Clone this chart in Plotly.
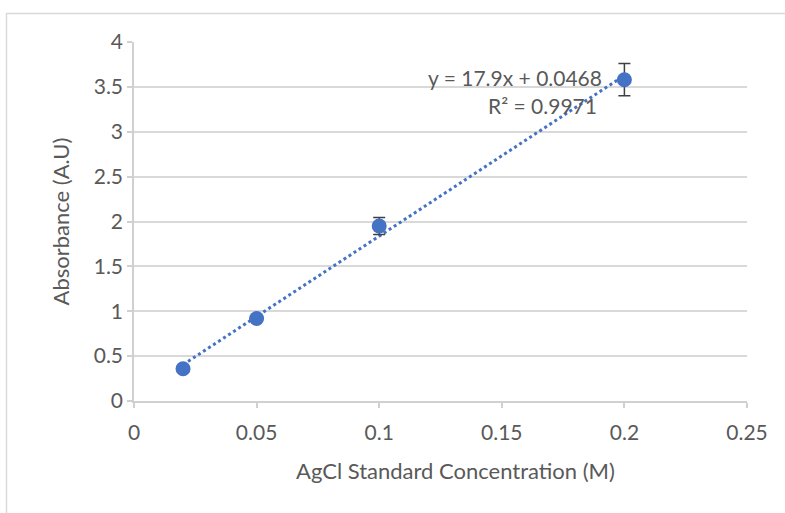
import plotly.graph_objects as go

conc = [0.02, 0.05, 0.1, 0.2]
absorb = [0.36, 0.92, 1.95, 3.58]
err = [0.0, 0.0, 0.095, 0.18]
slope = 17.9
intercept = 0.0468
r2 = 0.9971
x_ticks = [0, 0.05, 0.1, 0.15, 0.2, 0.25]
x_ticklabels = ["0", "0.05", "0.1", "0.15", "0.2", "0.25"]
y_ticks = [0, 0.5, 1, 1.5, 2, 2.5, 3, 3.5, 4]
y_ticklabels = ["0", "0.5", "1", "1.5", "2", "2.5", "3", "3.5", "4"]
x_title = "AgCl Standard Concentration (M)"
y_title = "Absorbance (A.U)"

blue = "#4472C4"
font = "Lato, Open Sans, sans-serif"
txt = "#595959"

trend_x = [conc[0], conc[-1]]
trend_y = [slope * v + intercept for v in trend_x]

fig = go.Figure()
fig.add_trace(go.Scatter(x=trend_x, y=trend_y, mode="lines",
                         line=dict(color=blue, width=3, dash="dot"),
                         showlegend=False, hoverinfo="skip"))
fig.add_trace(go.Scatter(x=conc, y=absorb, mode="markers",
                         marker=dict(color=blue, size=15),
                         error_y=dict(type="data", array=err, visible=True,
                                      color="#404040", thickness=1.5, width=6),
                         showlegend=False))

fig.add_annotation(xref="paper", yref="paper", x=(604 - 134) / 613, y=(401 - 77) / 359,
                   xanchor="right", yanchor="middle", showarrow=False,
                   text=f"y = {slope}x + {intercept}", font=dict(family=font, size=21, color=txt))
fig.add_annotation(xref="paper", yref="paper", x=(599 - 134) / 613, y=(401 - 105) / 359,
                   xanchor="right", yanchor="middle", showarrow=False,
                   text=f"R² = {r2}", font=dict(family=font, size=21, color=txt))
fig.add_annotation(xref="paper", yref="paper", x=(455 - 134) / 613, y=(401 - 470) / 359,
                   xanchor="center", yanchor="middle", showarrow=False,
                   text=x_title, font=dict(family=font, size=22, color=txt))

fig.add_shape(type="rect", xref="paper", yref="paper",
              x0=(6.5 - 134) / 613, x1=1.3, y0=-0.6, y1=(401 - 13.5) / 359,
              line=dict(color="#d9d9d9", width=1.5), fillcolor="rgba(0,0,0,0)", layer="below")

fig.update_xaxes(range=[0, 0.25], tickvals=x_ticks, ticktext=x_ticklabels,
                 showgrid=False, zeroline=False, showline=True, linecolor="#d0d0d0", linewidth=1.5,
                 ticks="outside", ticklen=5, tickcolor="#d0d0d0", tickwidth=1.5,
                 ticklabelstandoff=7,
                 tickfont=dict(family=font, size=21, color=txt))
fig.update_yaxes(range=[0, 4], tickvals=y_ticks, ticktext=y_ticklabels,
                 showgrid=True, gridcolor="#d9d9d9", gridwidth=1.5, zeroline=False,
                 showline=True, linecolor="#d0d0d0", linewidth=1.5,
                 ticks="outside", ticklen=5, tickcolor="#d0d0d0", tickwidth=1.5,
                 tickfont=dict(family=font, size=21, color=txt),
                 title=dict(text=y_title, standoff=18,
                            font=dict(family=font, size=22, color=txt)))

fig.update_layout(width=785, height=513, margin=dict(l=134, r=38, t=42, b=112),
                  paper_bgcolor="white", plot_bgcolor="white")

fig.write_html("out.html", config={"displayModeBar": False},
               post_script="document.body.style.margin='0';")
